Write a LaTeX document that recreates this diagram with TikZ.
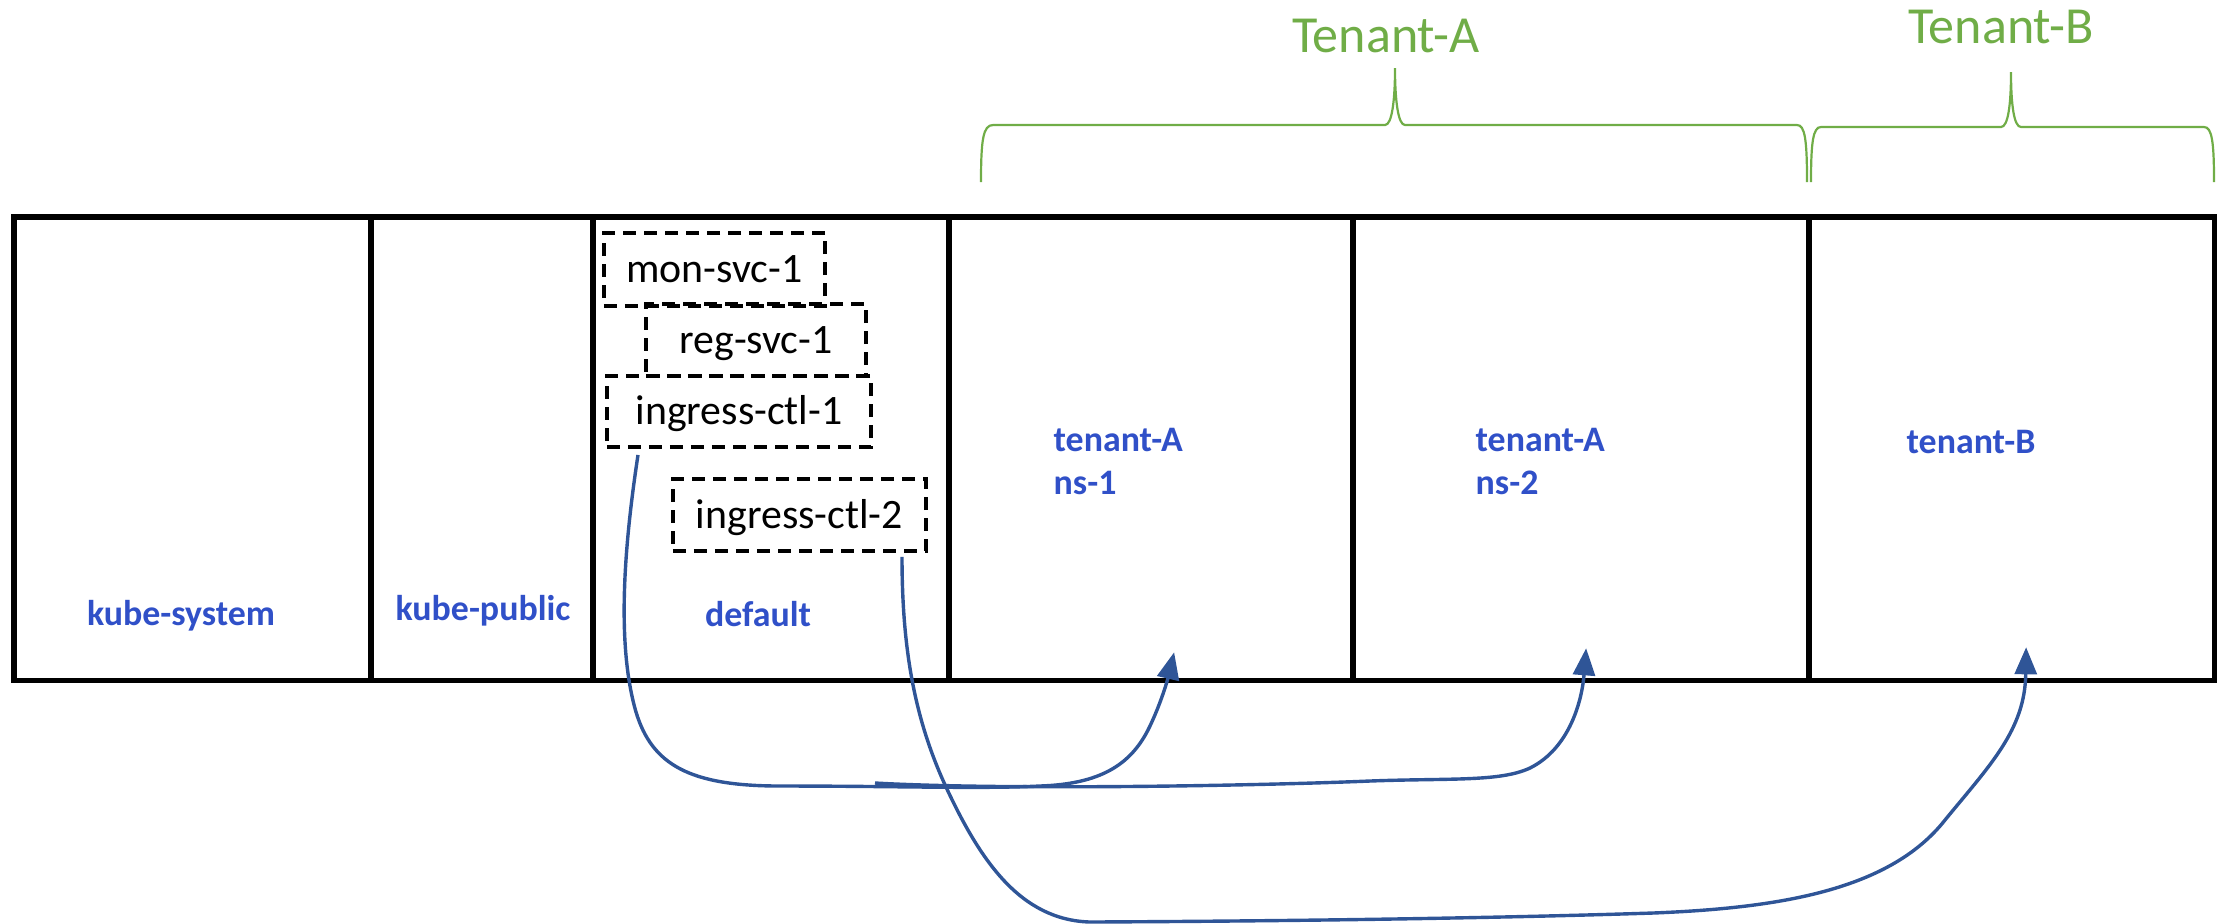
\documentclass[tikz,border=0pt]{standalone}
\usepackage{fontspec}
\setmainfont{Carlito}
\usetikzlibrary{arrows.meta,calc}
\definecolor{nsblue}{RGB}{48,80,200}
\definecolor{linkblue}{RGB}{47,85,151}
\definecolor{tgreen}{RGB}{112,173,71}
\begin{document}
\begin{tikzpicture}[x=0.01cm,y=-0.01cm,
  nscell/.style={draw=black, line width=0.055cm, minimum height=4.63cm,
    anchor=north west, inner sep=0pt, outer sep=0pt},
  nslabel/.style={text=nsblue, font=\fontsize{10.2pt}{12.2pt}\selectfont\bfseries, inner sep=0pt},
  svcbox/.style={draw=black, line width=0.038cm, dash pattern=on 0.13cm off 0.08cm,
    inner sep=0pt, font=\fontsize{11.9pt}{14pt}\selectfont,
    text height=8.9pt, text depth=1.3pt},
  link/.style={draw=linkblue, line width=0.034cm, -{Triangle[length=0.27cm,width=0.22cm]}},
  tenant/.style={text=tgreen, font=\fontsize{14.8pt}{17pt}\selectfont, inner sep=0pt},
  brace/.style={draw=tgreen, line width=0.022cm}]

\useasboundingbox (0,0) rectangle (2221,923);

% namespace strip
\node[nscell, minimum width=3.57cm] (ks)  at (14,217)   {};
\node[nscell, minimum width=2.22cm] (kp)  at (371,217)  {};
\node[nscell, minimum width=3.56cm] (df)  at (593,217)  {};
\node[nscell, minimum width=4.04cm] (na1) at (949,217)  {};
\node[nscell, minimum width=4.56cm] (na2) at (1353,217) {};
\node[nscell, minimum width=4.05cm] (nb)  at (1809,217) {};

% namespace names
\node[nslabel, anchor=base] (ksl) at (181,625) {kube-system};
\node[nslabel, anchor=base] (kpl) at (483,620) {kube-public};
\node[nslabel, anchor=base] (dfl) at (758,626) {default};
\node[nslabel, anchor=north west, align=left] (na1l) at (1053,428) {tenant-A\\ns-1};
\node[nslabel, anchor=north west, align=left] (na2l) at (1475,428) {tenant-A\\ns-2};
\node[nslabel, anchor=base west] (nbl) at (1906,453) {tenant-B};

% services in the default namespace
\node[svcbox, minimum width=2.21cm, minimum height=0.73cm] (mon) at (714.5,269.5) {mon-svc-1};
\node[svcbox, minimum width=2.20cm, minimum height=0.72cm] (reg) at (756,340) {reg-svc-1};
\node[svcbox, minimum width=2.64cm, minimum height=0.71cm] (ic1) at (739,411.5) {ingress-ctl-1};
\node[svcbox, minimum width=2.53cm, minimum height=0.72cm] (ic2) at (799.5,515) {ingress-ctl-2};

% tenant groups
\node[tenant, anchor=base] (ta) at (1386,52) {Tenant-A};
\node[tenant, anchor=base] (tb) at (2001,43) {Tenant-B};

\draw[brace] (981,182) .. controls (981,140) and (983,125) .. (993,125) -- (1385,125)
  .. controls (1392,125) and (1395,100) .. (1395,68)
  .. controls (1395,100) and (1398,125) .. (1405,125) -- (1797,125)
  .. controls (1805,125) and (1807,140) .. (1807,182);
\draw[brace] (1811,182) .. controls (1811,142) and (1813,127) .. (1821,127) -- (2001,127)
  .. controls (2008,127) and (2011,105) .. (2011,72)
  .. controls (2011,105) and (2014,127) .. (2021,127) -- (2204,127)
  .. controls (2212,127) and (2214,142) .. (2214,182);

% ingress routes
\coordinate (split) at (875,783);

\draw[link] ($(ic1.south)+(-101,6)$) .. controls (622,560) and (618,650) .. (636,712)
  .. controls (652,765) and (690,786) .. (780,786)
  .. controls (900,786) and (980,789) .. (1040,786)
  .. controls (1100,784) and (1130,765) .. (1148,730)
  .. controls (1163,700) and (1170,670) .. ($(na1.south)+(23,-28)$);

\draw[link] (split) .. controls (1000,790) and (1250,786) .. (1370,781)
  .. controls (1450,778) and (1500,782) .. (1530,768)
  .. controls (1570,748) and (1582,700) .. ($(na2.south)+(5,-32)$);

\draw[link] ($(ic2.south)+(102.5,4)$) .. controls (902,650) and (915,720) .. (946,787)
  .. controls (980,860) and (1020,920) .. (1090,922)
  .. controls (1300,921) and (1500,918) .. (1653,913)
  .. controls (1780,908) and (1890,890) .. (1945,820)
  .. controls (1990,765) and (2025,730) .. ($(nb.south)+(14.5,-33)$);
\end{tikzpicture}
\end{document}
